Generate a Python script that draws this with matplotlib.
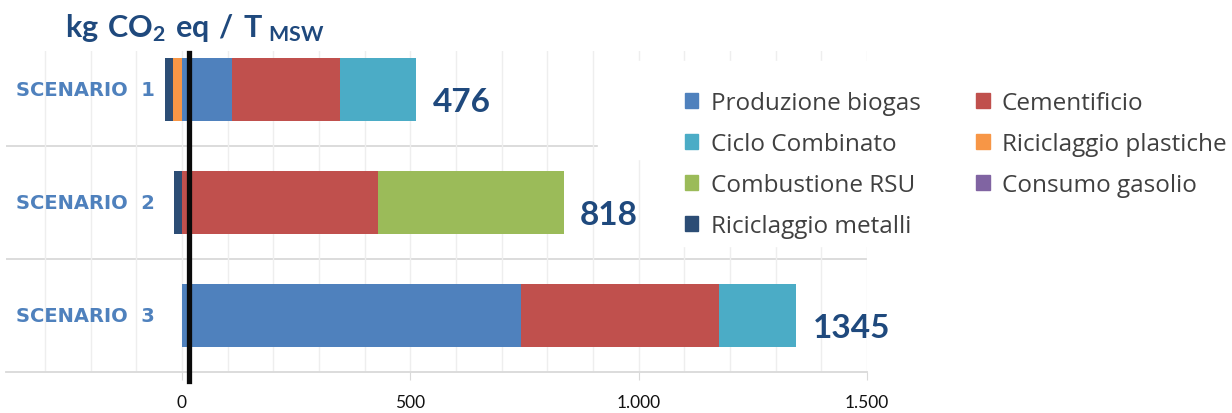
import matplotlib.pyplot as plt
from matplotlib.patches import Patch, Rectangle
from matplotlib.ticker import FuncFormatter, MultipleLocator

# Emissions per tonne of MSW, broken down by process (kg CO2 eq)
scenarios = ["SCENARIO  1", "SCENARIO  2", "SCENARIO  3"]
totals = [476, 818, 1345]

produzione_biogas = [110, 0, 742]
cementificio = [237, 430, 433]
ciclo_combinato = [166, 0, 170]
riciclaggio_plastiche = [-19, 0, 0]
combustione_rsu = [0, 406, 0]
consumo_gasolio = [0, 0, 0]
riciclaggio_metalli = [-18, -18, 0]

series = [
    ("Produzione biogas", produzione_biogas, "#4F81BD"),
    ("Cementificio", cementificio, "#C0504D"),
    ("Ciclo Combinato", ciclo_combinato, "#4BACC6"),
    ("Riciclaggio plastiche", riciclaggio_plastiche, "#F79646"),
    ("Combustione RSU", combustione_rsu, "#9BBB59"),
    ("Consumo gasolio", consumo_gasolio, "#8064A2"),
    ("Riciclaggio metalli", riciclaggio_metalli, "#2C4D75"),
]

plt.rcParams["font.family"] = ["Lato", "DejaVu Sans"]
plt.rcParams["mathtext.fontset"] = "custom"
plt.rcParams["mathtext.rm"] = "Lato"
plt.rcParams["mathtext.bf"] = "Lato:bold"

W, H = 1232, 414
fig = plt.figure(figsize=(W / 100, H / 100), dpi=100)
ax = fig.add_axes([6 / W, 1 - 373 / H, (867 - 6) / W, (373 - 52) / H])

y = list(range(len(scenarios)))
pos_left = [0.0] * len(y)
neg_left = [0.0] * len(y)
for name, vals, color in series:
    lefts = []
    for i, v in enumerate(vals):
        if v >= 0:
            lefts.append(pos_left[i])
            pos_left[i] += v
        else:
            lefts.append(neg_left[i])
            neg_left[i] += v
    ax.barh(y, vals, left=lefts, height=0.55, color=color, zorder=3)

# net totals next to each bar
for i, t in enumerate(totals):
    ax.text(pos_left[i] + 36, i + 0.11, str(t), fontsize=24, fontweight="bold",
            color="#1F497D", ha="left", va="center", zorder=5)

# scenario names inside the plot area
for i, s in enumerate(scenarios):
    ax.text(-60, i, s, fontsize=14, fontweight="bold", color="#4F81BD",
            family="DejaVu Sans", ha="right", va="center", zorder=5)

ax.set_xlim(-385, 1500)
ax.set_ylim(2.5, -0.34)

ax.xaxis.set_major_locator(MultipleLocator(500))
ax.xaxis.set_minor_locator(MultipleLocator(100))
ax.xaxis.set_major_formatter(FuncFormatter(lambda v, p: f"{int(v):,}".replace(",", ".")))
ax.grid(which="both", axis="x", color="#EEEEEE", lw=1, zorder=0)
ax.set_yticks([])
for yy in [0.5, 1.5]:
    ax.axhline(yy, color="#D9D9D9", lw=1.3, zorder=1)

for side in ["top", "right", "left"]:
    ax.spines[side].set_visible(False)
ax.spines["bottom"].set_color("#D9D9D9")
ax.spines["bottom"].set_linewidth(1.3)
ax.tick_params(axis="x", which="major", length=6, color="#D9D9D9", labelsize=12.5,
               pad=10, labelcolor="#111111")
ax.tick_params(axis="x", which="minor", length=0)

# reference line near zero
ax.axvline(16, ymin=-0.028, ymax=0.994, color="#0A0A0A", lw=3.8, zorder=6, clip_on=False)

# white panel behind the legend
fig.patches.append(Rectangle((598 / W, 1 - 160 / H), (W - 598) / W, 98 / H,
                             transform=fig.transFigure, color="white", zorder=4))
fig.patches.append(Rectangle((660 / W, 1 - 247 / H), (W - 660) / W, 90 / H,
                             transform=fig.transFigure, color="white", zorder=4))

# legend filled row by row: reorder for matplotlib's column filling
order = [0, 2, 4, 6, 1, 3, 5]
handles = [Patch(color=series[k][2], label=series[k][0]) for k in order]
leg = fig.legend(handles=handles, ncol=2, loc="upper left",
                 bbox_to_anchor=(668 / W, 1 - 75 / H), frameon=False,
                 prop={"family": "Open Sans", "size": 17.5},
                 handlelength=0.55, handleheight=0.55, handletextpad=0.5,
                 columnspacing=2.3, labelspacing=0.7, borderpad=0.2,
                 labelcolor="#404040")
leg.set_zorder(7)

fig.text(65 / W, 1 - 28 / H, r"$\mathbf{kg\ CO_2\ eq\ /\ T_{\ MSW}}$", fontsize=22,
         color="#1F497D", ha="left", va="center")

fig.savefig("out.png", dpi=100)
